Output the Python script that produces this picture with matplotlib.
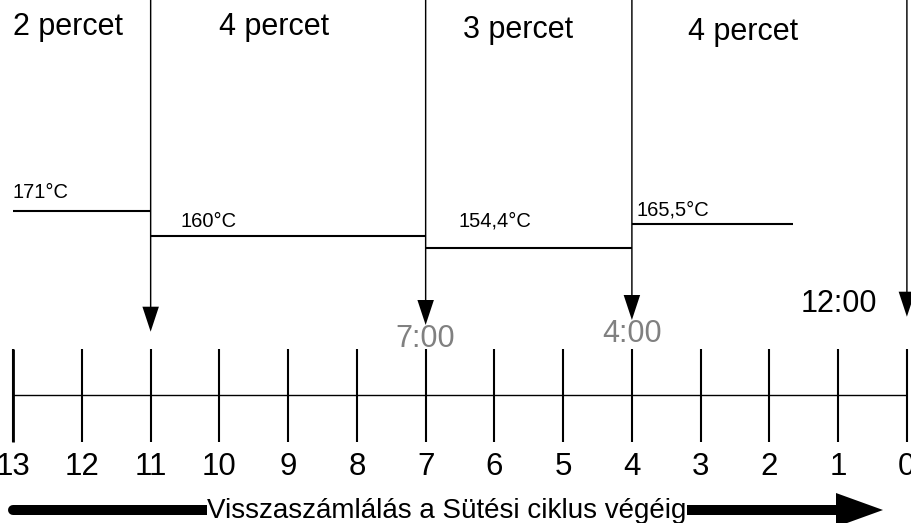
import matplotlib.pyplot as plt
from matplotlib.patches import FancyArrow

plt.rcParams['font.family'] = ['Liberation Sans', 'DejaVu Sans']

# Countdown scale (minutes left)
minutes = list(range(0, 14))
tick_labels = [str(m) for m in minutes]

# Stage boundaries (minutes left) and their durations
stage_marks = [11, 7, 4, 0]
durations = [2, 4, 3, 4]
duration_labels = [f"{d} percet" for d in durations]

# Temperature steps: start, end (minutes left) and value
temp_start = [13, 11, 7, 4]
temp_end = [11, 7, 4, 1.65]
temps = [171, 160, 154.4, 165.5]
temp_labels = ["171°C", "160°C", "154,4°C", "165,5°C"]

# Time readouts at some of the marks
time_marks = [7, 4, 0]
time_labels = ["7:00", "4:00", "12:00"]
time_colors = ["#808080", "#808080", "black"]

bottom_label = "Visszaszámlálás a Sütési ciklus végéig"

# layout: pixel positions from top of the 911x523 canvas
PX0, PX_PER_MIN = 906.9, 68.75


def m2px(m):
    return PX0 - PX_PER_MIN * m


def px2m(px):
    return (PX0 - px) / PX_PER_MIN


fig = plt.figure(figsize=(9.11, 5.23), dpi=100)
ax = fig.add_axes([0, 0, 1, 1])
ax.set_xlim(px2m(0), px2m(911))
ax.set_ylim(523, 0)
ax.axis("off")

# temperature axis sharing x, linear in degC
tax = ax.twinx()
T_A, T_B = 593.6, 2.236  # y_px = T_A - T_B * T
tax.set_ylim((T_A - 523) / T_B, T_A / T_B)
tax.axis("off")

# timeline
ax.hlines(395, min(minutes), max(minutes), color="black", lw=1.0)
ax.vlines(minutes, 349, 442, color="black", lw=1.5)
ax.vlines(13, 349, 442, color="black", lw=2.0)
for m, lab in zip(minutes, tick_labels):
    ax.text(m, 475, lab, fontsize=22.5, ha="center", va="baseline")

# stage arrows from top of the picture
tip_y = [331.7, 325, 320, 316.7]
for m, ty in zip(stage_marks, tip_y):
    ax.add_patch(FancyArrow(m, 0, 0, ty, width=0.021, head_width=0.24,
                            head_length=25, length_includes_head=True,
                            color="black", lw=0))

# duration labels
dur_x = [13, 219, 463, 688]
dur_y = [35, 35, 38, 40]
for x, y, lab in zip(dur_x, dur_y, duration_labels):
    ax.text(px2m(x), y, lab, fontsize=22, ha="left", va="baseline")

# temperature steps
tax.hlines(temps, temp_start, temp_end, color="black", lw=1.5)
tlab_x = [13, 180, 458, 636]
tlab_y = [198, 226.7, 226.7, 215]
for x, y, lab in zip(tlab_x, tlab_y, temp_labels):
    ax.text(px2m(x), y, lab, fontsize=14.5, ha="left", va="baseline")

# time readouts
time_x = [425.5, 632, 839]
time_y = [347, 341.5, 312.5]
for x, y, lab, c in zip(time_x, time_y, time_labels, time_colors):
    ax.text(px2m(x), y, lab, fontsize=22, ha="center", va="baseline", color=c)

# bottom countdown arrow with label
ax.plot([13.0, px2m(838)], [510, 510], color="black", lw=7.2,
        solid_capstyle="round")
ax.fill([px2m(836), px2m(836), px2m(883)], [493, 527, 510], color="black", lw=0)
ax.text(px2m(207), 518, bottom_label, fontsize=20, ha="left", va="baseline",
        bbox=dict(facecolor="white", edgecolor="none", pad=0.3))

fig.savefig("out.png", dpi=100)
